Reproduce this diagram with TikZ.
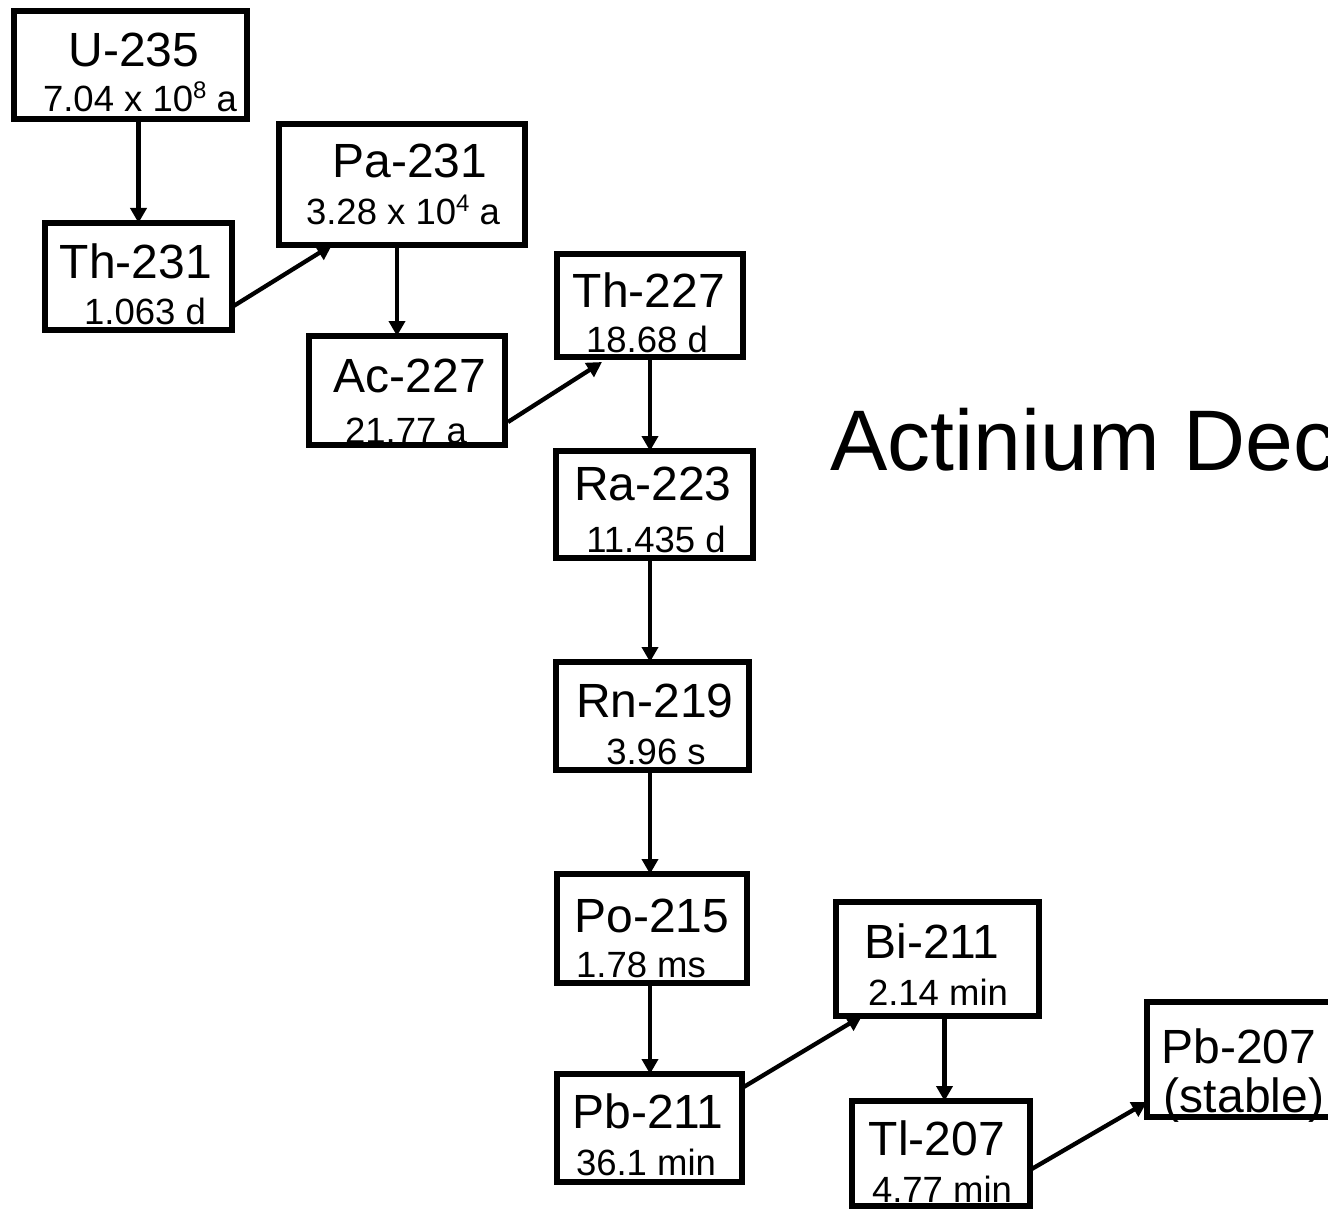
\documentclass[tikz,border=0pt]{standalone}
\usepackage{fontspec}
\setmainfont{Liberation Sans}
\usetikzlibrary{arrows.meta}
\newcommand\myexp[1]{\raisebox{0.36em}{\fontsize{24}{24}\selectfont #1}}
\begin{document}
\begin{tikzpicture}[x=1pt,y=-1pt,
  box/.style={draw,line width=5.5pt,inner sep=0pt,outer sep=0pt},
  big/.style={anchor=base,inner sep=0pt,font=\fontsize{48}{48}\selectfont},
  small/.style={anchor=base,inner sep=0pt,font=\fontsize{36.5}{36.5}\selectfont},
  arr/.style={line width=4.3pt,-{Triangle[length=15pt,width=16pt]}}]
\useasboundingbox (0,0) rectangle (1328,1209);
\fill[white] (0,0) rectangle (1328,1209);

% boxes
\node[box,minimum width=233pt,minimum height=108pt] (u235) at (130.5,65) {};
\node[box,minimum width=187pt,minimum height=107pt] (th231) at (138.5,276.5) {};
\node[box,minimum width=246pt,minimum height=121pt] (pa231) at (402,184.5) {};
\node[box,minimum width=196pt,minimum height=109pt] (ac227) at (407,390.5) {};
\node[box,minimum width=186pt,minimum height=103pt] (th227) at (650,305.5) {};
\node[box,minimum width=197pt,minimum height=107pt] (ra223) at (654.5,504.5) {};
\node[box,minimum width=193pt,minimum height=108pt] (rn219) at (652.5,716) {};
\node[box,minimum width=190pt,minimum height=109pt] (po215) at (652,928.5) {};
\node[box,minimum width=185pt,minimum height=108pt] (pb211) at (649.5,1128) {};
\node[box,minimum width=203pt,minimum height=114pt] (bi211) at (937.5,959) {};
\node[box,minimum width=178pt,minimum height=105pt] (tl207) at (941,1153.5) {};
\node[box,minimum width=187pt,minimum height=115pt] (pb207) at (1240.5,1059.5) {};

% texts
\node[big] (u235a) at (134,67) {U-235};
\node[small] (u235b) at (140,112) {7.04 x 10\myexp{8} a};
\node[big] (th231a) at (136,278) {Th-231};
\node[small] (th231b) at (145,324) {1.063 d};
\node[big] (pa231a) at (410,178) {Pa-231};
\node[small] (pa231b) at (403,225) {3.28 x 10\myexp{4} a};
\node[big] (ac227a) at (410,392) {Ac-227};
\node[small] (ac227b) at (406,443) {21.77 a};
\node[big] (th227a) at (649,307) {Th-227};
\node[small] (th227b) at (647,352) {18.68 d};
\node[big] (ra223a) at (653,500) {Ra-223};
\node[small] (ra223b) at (656,552) {11.435 d};
\node[big] (rn219a) at (655,717) {Rn-219};
\node[small] (rn219b) at (656,764) {3.96 s};
\node[big] (po215a) at (652,932) {Po-215};
\node[small] (po215b) at (641,977) {1.78 ms};
\node[big] (pb211a) at (648,1128) {Pb-211};
\node[small] (pb211b) at (646,1175) {36.1 min};
\node[big] (bi211a) at (932,958) {Bi-211};
\node[small] (bi211b) at (938,1005) {2.14 min};
\node[big] (tl207a) at (937,1155) {Tl-207};
\node[small] (tl207b) at (942,1202) {4.77 min};
\node[big] (pb207a) at (1239,1063) {Pb-207};
\node[big] (pb207b) at (1244,1112) {(stable)};

% title
\node[anchor=base west,inner sep=0pt,font=\fontsize{86}{86}\selectfont] (title) at (830,470) {Actinium Dec};

% vertical arrows
\draw[arr] (u235.south -| th231.north) -- (th231.north);
\draw[arr] ([xshift=-5pt]pa231.south) -- ([xshift=-5pt]pa231.south |- ac227.north);
\draw[arr] (th227.south) -- (th227.south |- ra223.north);
\draw[arr] (ra223.south -| th227.south) -- (rn219.north -| th227.south);
\draw[arr] (rn219.south -| th227.south) -- (po215.north -| th227.south);
\draw[arr] (po215.south -| th227.south) -- (pb211.north -| th227.south);
\draw[arr] ([xshift=7pt]bi211.south) -- ([xshift=7pt]bi211.south |- tl207.north);

% diagonal arrows
\draw[arr] ([yshift=-30.5pt]th231.east) -- ([xshift=-70pt]pa231.south);
\draw[arr] ([yshift=-31.5pt,xshift=3pt]ac227.east) -- ([xshift=-48pt,yshift=-5pt]th227.south);
\draw[arr] ([yshift=40pt]pb211.east) -- ([xshift=-75.5pt]bi211.south);
\draw[arr] ([yshift=-16.5pt]tl207.east) -- ([yshift=-42.5pt]pb207.west);
\end{tikzpicture}
\end{document}
